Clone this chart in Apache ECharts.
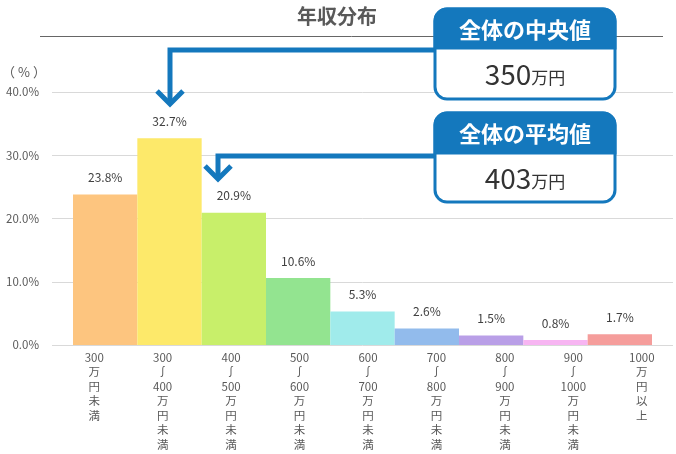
<!DOCTYPE html>
<html>
<head>
<meta charset="utf-8">
<script src="https://cdn.jsdelivr.net/npm/echarts@6/dist/echarts.min.js"></script>
<style>
html,body{margin:0;padding:0;background:#fff;}
#chart{width:676px;height:454px;}
</style>
</head>
<body>
<div id="chart"></div>
<script>
var categories = [
  "300\n万\n円\n未\n満",
  "300\n∫\n400\n万\n円\n未\n満",
  "400\n∫\n500\n万\n円\n未\n満",
  "500\n∫\n600\n万\n円\n未\n満",
  "600\n∫\n700\n万\n円\n未\n満",
  "700\n∫\n800\n万\n円\n未\n満",
  "800\n∫\n900\n万\n円\n未\n満",
  "900\n∫\n1000\n万\n円\n未\n満",
  "1000\n万\n円\n以\n上"
];
var shares = [23.8, 32.7, 20.9, 10.6, 5.3, 2.6, 1.5, 0.8, 1.7];
var barColors = ["#fdc57f", "#fde96a", "#c8ef6a", "#93e490", "#a0ebeb", "#92bbec", "#b99fe7", "#f7b5f2", "#f59d9b"];
var yTicks = [0, 10, 20, 30, 40];
var medianLabel = "全体の中央値";
var medianValue = "350";
var meanLabel = "全体の平均値";
var meanValue = "403";

var FONT = "'Noto Sans CJK JP', 'Noto Sans', sans-serif";
var BLUE = "#1478bd";

var chart = echarts.init(document.getElementById('chart'), null, {renderer: 'canvas'});

function callout(x, y, w, h, hh, label, value) {
  return {
    type: 'group',
    z: 100,
    children: [
      {type: 'rect', shape: {x: x, y: y, width: w, height: h, r: 12},
       style: {fill: '#fff', stroke: BLUE, lineWidth: 3}, z: 100},
      {type: 'rect', shape: {x: x, y: y, width: w, height: hh, r: [12, 12, 0, 0]},
       style: {fill: BLUE, stroke: BLUE, lineWidth: 3}, z: 101},
      {type: 'text', x: x + w / 2, y: y + hh / 2 + 1, z: 102,
       style: {text: label, fill: '#fff', font: 'bold 22px ' + FONT, align: 'center', verticalAlign: 'middle'}},
      {type: 'text', x: x + w / 2, y: y + hh + (h - hh) / 2 + 1, z: 102,
       style: {
         text: '{v|' + value + '}{u|万円}',
         align: 'center', verticalAlign: 'middle',
         rich: {
           v: {fontSize: 28, fontFamily: FONT, fill: '#333', color: '#333', letterSpacing: 3},
           u: {fontSize: 17, fontFamily: FONT, fill: '#333', color: '#333', padding: [7, 0, 0, 0]}
         }
       }}
    ]
  };
}

function arrow(pts, head) {
  return [
    {type: 'polyline', z: 90, shape: {points: pts},
     style: {stroke: BLUE, lineWidth: 5, fill: null, lineJoin: 'miter'}},
    {type: 'polyline', z: 90, shape: {points: head},
     style: {stroke: BLUE, lineWidth: 5, fill: null, lineJoin: 'miter'}}
  ];
}

var graphics = [
  {type: 'text', x: 337, y: 16, z: 50,
   style: {text: '年収分布', font: 'bold 20px ' + FONT, fill: '#595959', align: 'center', verticalAlign: 'middle'}},
  {type: 'line', z: 50, shape: {x1: 40, y1: 36.5, x2: 663, y2: 36.5},
   style: {stroke: '#666', lineWidth: 1}},
  {type: 'text', x: 24, y: 72, z: 50,
   style: {text: '（ % ）', font: '13px ' + FONT, fill: '#595959', align: 'center', verticalAlign: 'middle'}}
];
graphics = graphics.concat(arrow([[436, 50], [170, 50], [170, 103]], [[157, 91], [170, 104], [183, 91]]));
graphics = graphics.concat(arrow([[436, 156], [218, 156], [218, 179]], [[205, 166], [218, 179], [231, 166]]));
graphics.push(callout(435, 9, 180, 90, 39, medianLabel, medianValue));
graphics.push(callout(435, 113, 180, 89, 40, meanLabel, meanValue));

var option = {
  animation: false,
  backgroundColor: '#fff',
  textStyle: {fontFamily: FONT},
  grid: [
    {left: 73, right: 24, top: 92, bottom: 109},
    {left: 52, right: 3, top: 92, bottom: 109},
    {left: 60, width: 621, top: 92, bottom: 109}
  ],
  xAxis: [
    {
      type: 'category', gridIndex: 0, data: categories,
      axisLine: {show: false}, axisTick: {show: false}, axisLabel: {show: false}
    },
    {type: 'value', gridIndex: 1, show: false, min: 0, max: 1},
    {
      type: 'category', gridIndex: 2, data: categories,
      axisLine: {show: false}, axisTick: {show: false}, splitLine: {show: false},
      axisLabel: {color: '#595959', fontSize: 11.5, lineHeight: 14.5, margin: 5, interval: 0, fontFamily: FONT}
    }
  ],
  yAxis: [
    {type: 'value', gridIndex: 0, min: 0, max: 40, interval: 10, show: false},
    {
      type: 'value', gridIndex: 1, min: yTicks[0], max: yTicks[yTicks.length - 1], interval: 10,
      axisLine: {show: false}, axisTick: {show: false},
      splitLine: {lineStyle: {color: '#d9d9d9', width: 1}},
      axisLabel: {color: '#595959', fontSize: 11.5, margin: 13, fontFamily: FONT,
        formatter: function (v) { return v.toFixed(1) + '%'; }}
    },
    {type: 'value', gridIndex: 2, min: 0, max: 40, show: false}
  ],
  series: [{
    type: 'bar',
    xAxisIndex: 0, yAxisIndex: 0,
    barCategoryGap: '0%',
    data: shares.map(function (v, i) { return {value: v, itemStyle: {color: barColors[i]}}; }),
    label: {
      show: true, position: 'top', distance: 11,
      color: '#404040', fontSize: 12, fontFamily: FONT,
      formatter: function (p) { return p.value.toFixed(1) + '%'; }
    },
    z: 5
  }],
  graphic: graphics
};
chart.setOption(option);
</script>
</body>
</html>
